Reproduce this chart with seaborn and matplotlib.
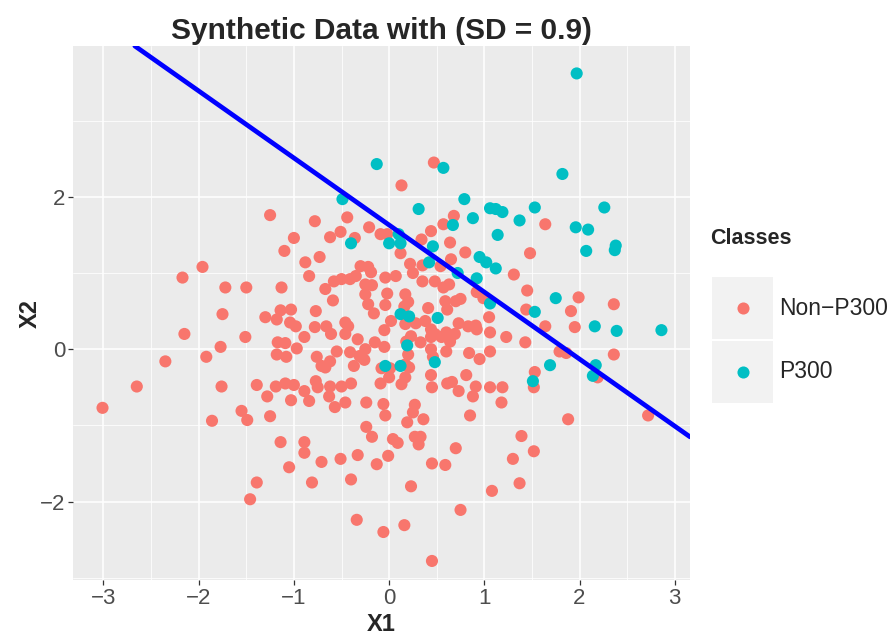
import numpy as np
import pandas as pd
import seaborn as sns
import matplotlib
matplotlib.use("Agg")
import matplotlib.pyplot as plt
from matplotlib.patches import Rectangle
from matplotlib.lines import Line2D

# ---- data -------------------------------------------------------------
non_p300_x = [
    -1.25, -0.78, -0.44, -0.21, 0.47, 0.13, 0.68, 0.57, 1.64,
    -1.96, -2.17, -1.72, -1.75, -2.15, -1.77, -1.92, -2.35, -2.65, -1.76, -3.01, -1.86,
    -0.51, -0.62, -0.36, -0.09, -1.00, -1.10, -0.88, -0.73, -0.84, -0.30, -0.22, -0.19,
    -0.35, -0.41, -0.50, -0.58, -0.04, -0.25, -0.18, -0.25, -0.67, -0.59, -1.13, -1.50,
    -0.22, -0.16, -0.04, -0.77, -1.03, -1.14, -1.30, -1.18, -1.04, -0.98, -0.78, -0.66,
    -0.61, -0.46, -0.43, -0.46, -0.89, -0.33, -0.15, -0.05, -1.51, -1.17, -1.09, -0.97,
    -1.18, -1.08, -0.55, -0.41, -0.25, -0.31, -0.26, -0.37, -0.76, -0.71, -0.62, -0.67,
    -0.08, -1.39, -1.28, -1.19, -1.09, -1.00, -0.89, -0.77, -0.75, -0.62, -0.50, -0.40,
    -1.03, -0.84, -0.63, -0.46, -0.24, -0.09,
    -0.02, 0.44, 0.34, 0.64, 0.80, 0.12, 0.22, 0.35, 0.25, 0.35, 0.54, 0.65, 0.07, 0.48,
    0.57, 0.63, 1.48, 1.31, 1.45, 0.92, 0.99, 0.17, -0.02, 0.20, 0.59, 0.70, 0.75, 0.61,
    0.41, 0.16, 1.44, 1.05, 0.02, 0.17, 0.28, 0.38, 0.73, 0.83, 0.91, 0.92, 0.44, 0.48,
    0.60, 0.69, 1.06, 1.23, 1.43, 0.23, 0.44, 0.55, 0.64, 0.33, 0.18, -0.05, 0.60, 0.44,
    1.06, 0.84, 0.95, 0.20, 0.46, 0.17, 0.01, 0.21, 0.44, 0.00, 0.17, 0.13, 0.81, 0.61,
    0.66, 0.73, 0.45, 0.91, 1.06, 1.19, 0.88, 1.18, 1.53, 1.52, -0.06, 0.27,
    1.99, 1.91, 2.36, 1.64, 1.95, 1.79, 1.86, 2.36, 2.19,
    -1.55, -1.49, -1.25, -1.14, -0.89, -0.89, -1.05, -0.71, -0.51, -0.33, -0.13, -0.81,
    -0.40, -1.39, -1.46, -0.34, -0.06, -0.24, -0.18, -0.57, -0.04,
    0.25, 0.36, 0.19, 0.85, 0.04, 0.09, 0.27, 0.33, 0.31, -0.01, 0.70, 0.45, 0.59, 0.23,
    1.39, 1.52, 1.30, 1.37, 1.08, 0.75, 0.16, 0.45,
    1.88, 2.72,
]
non_p300_y = [
    1.76, 1.68, 1.73, 1.60, 2.45, 2.15, 1.75, 1.64, 1.64,
    1.08, 0.94, 0.81, 0.46, 0.20, 0.03, -0.10, -0.16, -0.49, -0.49, -0.77, -0.94,
    1.54, 1.47, 1.46, 1.51, 1.46, 1.29, 1.14, 1.21, 0.96, 1.09, 1.08, 1.01,
    0.96, 0.92, 0.92, 0.89, 0.94, 0.85, 0.84, 0.72, 0.79, 0.64, 0.81, 0.81,
    0.59, 0.47, 0.58, 0.50, 0.52, 0.51, 0.42, 0.39, 0.35, 0.30, 0.29, 0.30,
    0.20, 0.35, 0.30, 0.20, 0.16, 0.13, 0.09, 0.25, 0.16, 0.09, 0.08, 0.01,
    -0.07, -0.10, -0.03, -0.04, 0.00, -0.09, -0.14, -0.22, -0.10, -0.22, -0.16, -0.24,
    -0.25, -0.47, -0.62, -0.49, -0.45, -0.47, -0.55, -0.42, -0.50, -0.49, -0.49, -0.45,
    -0.67, -0.68, -0.62, -0.70, -0.70, -0.45,
    1.51, 1.55, 1.44, 1.40, 1.27, 1.26, 1.12, 1.10, 1.00, 0.89, 1.09, 1.18, 0.96, 0.89,
    0.81, 0.85, 1.26, 0.98, 0.77, 0.75, 0.67, 0.72, 0.73, 0.62, 0.63, 0.63, 0.66, 0.52,
    0.54, 0.56, 0.52, 0.42, 0.37, 0.33, 0.34, 0.37, 0.34, 0.30, 0.31, 0.26, 0.26, 0.20,
    0.22, 0.20, 0.22, 0.16, 0.09, 0.17, 0.16, 0.16, 0.10, 0.09, 0.10, 0.03, -0.03, 0.00,
    -0.03, -0.05, -0.13, -0.07, -0.10, -0.20, -0.25, -0.24, -0.34, -0.37, -0.37, -0.46, -0.34, -0.45,
    -0.43, -0.55, -0.50, -0.49, -0.50, -0.50, -0.62, -0.70, -0.30, -0.50, -0.72, -0.73,
    0.68, 0.50, 0.59, 0.30, 0.29, -0.03, -0.05, -0.07, -0.37,
    -0.81, -0.93, -0.88, -1.22, -1.22, -1.36, -1.55, -1.48, -1.44, -1.39, -1.51, -1.75,
    -1.71, -1.75, -1.97, -2.24, -2.40, -1.02, -1.15, -0.76, -0.87,
    -0.83, -0.92, -0.96, -0.87, -1.18, -1.23, -1.15, -1.15, -1.25, -1.40, -1.30, -1.50, -1.52, -1.80,
    -1.14, -1.34, -1.44, -1.76, -1.86, -2.11, -2.31, -2.78,
    -0.92, -0.87,
]

p300_x = [
    1.97, -0.13, 0.57, 1.82, -0.49, 0.79, 0.31, 1.06, 1.12, 1.19, 1.53, 2.26, 0.67, 0.88,
    1.37, 1.96, 2.09, 0.00, 0.12, 0.10, 0.46, 1.14, -0.40, 2.38, 2.37, 2.07, 0.95, 1.02,
    1.12, 0.72, 0.92, 1.06, 1.75, 1.53, 2.16, 2.39, 2.86, 0.12, 0.21, 0.51, 0.19, 0.48,
    0.12, -0.04, 1.69, 2.17, 2.14, 1.51, 0.42,
]
p300_y = [
    3.62, 2.43, 2.38, 2.30, 1.97, 1.97, 1.84, 1.85, 1.84, 1.80, 1.86, 1.86, 1.63, 1.72,
    1.69, 1.60, 1.57, 1.39, 1.39, 1.51, 1.35, 1.50, 1.39, 1.36, 1.30, 1.29, 1.21, 1.14,
    1.06, 1.00, 0.93, 0.60, 0.67, 0.49, 0.30, 0.24, 0.25, 0.46, 0.43, 0.41, 0.05, -0.17,
    -0.22, -0.22, -0.21, -0.21, -0.35, -0.42, 1.14,
]

class_labels = ["Non\u2212P300", "P300"]
class_colors = ["#F8766D", "#00BFC4"]

# decision boundary X2 = intercept + slope * X1
boundary_intercept = 1.63
boundary_slope = -0.88

x_ticks = [-3, -2, -1, 0, 1, 2, 3]
y_ticks = [-2, 0, 2]

df = pd.DataFrame({
    "X1": non_p300_x + p300_x,
    "X2": non_p300_y + p300_y,
    "Classes": [class_labels[0]] * len(non_p300_x) + [class_labels[1]] * len(p300_x),
})

# ---- style ------------------------------------------------------------
sns.set_theme(style="darkgrid")
plt.rcParams["font.family"] = ["Liberation Sans", "DejaVu Sans"]
plt.rcParams["axes.unicode_minus"] = True

W, H = 892, 639
fig = plt.figure(figsize=(W / 100, H / 100), dpi=100)
ax = fig.add_axes([73 / W, 1 - 580 / H, (690 - 73) / W, (580 - 46) / H])
ax.set_facecolor("#EBEBEB")

sns.scatterplot(data=df, x="X1", y="X2", hue="Classes", hue_order=class_labels,
                palette=class_colors, s=76, linewidth=0, alpha=1, legend=False,
                ax=ax, zorder=3)
ax.axline((0, boundary_intercept), slope=boundary_slope, color="#0000FF",
          linewidth=3.4, zorder=4)

ax.set_xlim(-3.32, 3.16)
ax.set_ylim(-3.03, 3.98)
ax.set_xticks(x_ticks)
ax.set_yticks(y_ticks)
ax.set_xticks([-2.5, -1.5, -0.5, 0.5, 1.5, 2.5], minor=True)
ax.set_yticks([-3, -1, 1, 3], minor=True)
ax.grid(which="major", color="white", linewidth=1.1)
ax.grid(which="minor", color="white", linewidth=0.55)
ax.set_axisbelow(True)
for sp in ax.spines.values():
    sp.set_visible(False)

ax.tick_params(which="major", length=3.5, width=0.9, color="#333333",
               labelsize=16, labelcolor="#4D4D4D", pad=2, bottom=True, left=True)
ax.tick_params(which="minor", length=0)

ax.set_xlabel("X1", fontsize=17, fontweight="bold", labelpad=3)
ax.set_ylabel("X2", fontsize=17, fontweight="bold", labelpad=-1)
ax.set_title("Synthetic Data with (SD = 0.9)", fontsize=21.5, fontweight="bold", pad=5)

# ---- legend -----------------------------------------------------------
fig.text(710 / W, 1 - 238 / H, "Classes", fontsize=15.5, fontweight="bold",
         ha="left", va="center")
key_top = [277, 341]
for i, (lab, col) in enumerate(zip(class_labels, class_colors)):
    y0 = key_top[i]
    fig.add_artist(Rectangle((712 / W, 1 - (y0 + 62) / H), 61 / W, 62 / H,
                             transform=fig.transFigure, facecolor="#F2F2F2",
                             edgecolor="none"))
    yc = y0 + 31
    fig.add_artist(Line2D([742.5 / W], [1 - yc / H], marker="o", markersize=8.7,
                          color=col, markeredgewidth=0, linestyle="none",
                          transform=fig.transFigure))
    fig.text(779 / W, 1 - yc / H, lab, fontsize=16.5, ha="left", va="center")

fig.savefig("out.png", dpi=100)
